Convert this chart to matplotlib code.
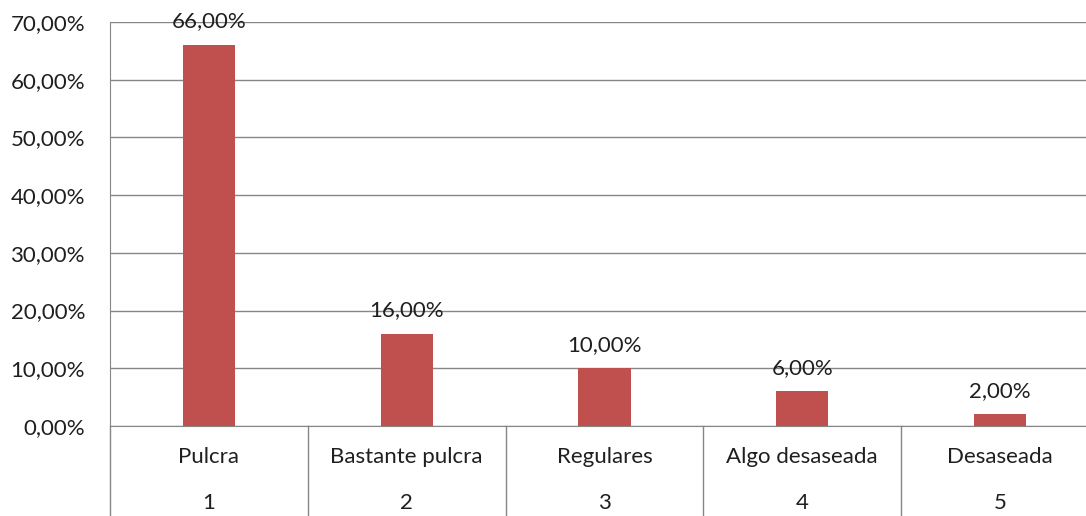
import matplotlib
matplotlib.use("Agg")
import matplotlib.pyplot as plt
import numpy as np

# categorias y valores (%)
categorias = ["Pulcra", "Bastante pulcra", "Regulares", "Algo desaseada", "Desaseada"]
numeros = ["1", "2", "3", "4", "5"]
porcentajes = [66.0, 16.0, 10.0, 6.0, 2.0]
yticks = [0, 10, 20, 30, 40, 50, 60, 70]

plt.rcParams['font.family'] = ['Lato', 'DejaVu Sans']
texto = '#1f1f1f'
gris = '#868686'
fs = 16

W, H = 1086, 516
fig = plt.figure(figsize=(W / 100, H / 100), dpi=100)
# plot area in pixels: x 110 -> 1099 (cut by figure), y 22 -> 426
x0, x1, ytop, ybot = 110, 1099, 22, 426
ax = fig.add_axes([x0 / W, 1 - ybot / H, (x1 - x0) / W, (ybot - ytop) / H])

x = np.arange(1, len(categorias) + 1)
ax.bar(x, porcentajes, width=0.263, color='#C0504D', zorder=3)
ax.set_xlim(0.5, len(categorias) + 0.5)
ax.set_ylim(0, 70)
ax.set_yticks(yticks)
ax.set_yticklabels(["%d,00%%" % v for v in yticks], fontsize=fs, color=texto)
ax.tick_params(axis='y', length=0, pad=18)
ax.set_xticks([])
ax.grid(axis='y', color=gris, linewidth=1, zorder=0)
for s in ['top', 'right']:
    ax.spines[s].set_visible(False)
ax.spines['left'].set_color(gris)
ax.spines['bottom'].set_color(gris)

for xi, v in zip(x, porcentajes):
    ax.annotate("%d,00%%" % v, (xi, v), xytext=(0, 17), textcoords='offset points',
                ha='center', va='center', fontsize=fs, color=texto, zorder=4)

# eje de categorias de dos niveles
tr = ax.get_xaxis_transform()
fondo = -(H - ybot) / (ybot - ytop)
for b in np.arange(0.5, len(categorias) + 1):
    ax.plot([b, b], [0, fondo], color=gris, linewidth=1, transform=tr, clip_on=False)
for xi, c, n in zip(x, categorias, numeros):
    ax.text(xi, -31 / (ybot - ytop), c, transform=tr, ha='center', va='center',
            fontsize=fs, color=texto)
    ax.text(xi, -77 / (ybot - ytop), n, transform=tr, ha='center', va='center',
            fontsize=fs, color=texto)

fig.savefig("out.png", dpi=100)
